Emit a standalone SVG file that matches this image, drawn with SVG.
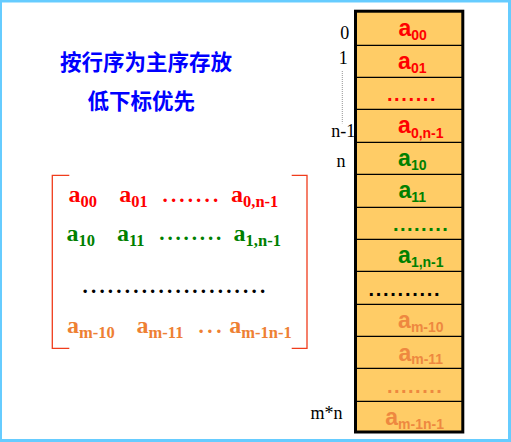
<svg xmlns="http://www.w3.org/2000/svg" width="511" height="442" viewBox="0 0 511 442">
<style>
.cell{fill:#FFCC66}
.div{stroke:#000;stroke-width:1.2}
.ca{font-family:"Liberation Sans",Arial,sans-serif;font-weight:bold;font-size:23px}
.cs{font-size:14px}
.cd{font-family:"Liberation Sans",Arial,sans-serif;font-weight:bold;font-size:20px}
.ma{font-family:"Liberation Serif","Times New Roman",serif;font-weight:bold;font-size:24px}
.ms{font-size:16.5px}
.md{font-family:"Liberation Serif","Times New Roman",serif;font-weight:bold;font-size:21px}
.lbl{font-family:"Liberation Serif","Times New Roman",serif;font-size:18px;fill:#000}
.title{font-family:"Noto Sans CJK SC","Noto Sans CJK JP",sans-serif;font-weight:bold;font-size:21.5px;fill:#0000FF}
.r{fill:#FF0000}
.g{fill:#008000}
.o{fill:#EE8033}
.oc{fill:#EE8840}
.k{fill:#000}
.br{fill:none;stroke:#F03C1C;stroke-width:1.3}
</style>
<rect x="0" y="0" width="511" height="442" fill="#66CCFF"/>
<rect x="2" y="2.5" width="506" height="436.5" fill="#FFFFFF"/>

<g id="title">
<text class="title" x="60" y="69.5">按行序为主序存放</text>
<text class="title" x="87.5" y="108.5">低下标优先</text>
</g>

<g id="matrix">
<path class="br" d="M69.3,175.3 H52.3 V348.3 H69.3"/>
<path class="br" d="M291.7,175.3 H307 V348.3 H291.7"/>
<text class="ma r" x="68.5" y="202">a<tspan class="ms" dy="5">00</tspan></text>
<text class="ma r" x="119.3" y="202">a<tspan class="ms" dy="5">01</tspan></text>
<text class="md r" x="162.5" y="202" style="letter-spacing:3.15px">.......</text>
<text class="ma r" x="231" y="202">a<tspan class="ms" dy="5">0,n-1</tspan></text>
<text class="ma g" x="66.6" y="240.5">a<tspan class="ms" dy="5">10</tspan></text>
<text class="ma g" x="117" y="240.5">a<tspan class="ms" dy="5">11</tspan></text>
<text class="md g" x="159.3" y="240" style="letter-spacing:2.85px">........</text>
<text class="ma g" x="233.6" y="240.5">a<tspan class="ms" dy="5">1,n-1</tspan></text>
<text class="md k" x="82.5" y="293" style="letter-spacing:3.2px">......................</text>
<text class="ma o" x="67" y="332.5">a<tspan class="ms" dy="5">m-10</tspan></text>
<text class="ma o" x="136.6" y="332.5">a<tspan class="ms" dy="5">m-11</tspan></text>
<text class="md o" x="198.5" y="333" style="letter-spacing:3.6px">...</text>
<text class="ma o" x="229.3" y="332.5">a<tspan class="ms" dy="5">m-1n-1</tspan></text>
</g>

<g id="memory">
<rect class="cell" x="355.5" y="11.2" width="107.3" height="420.8" stroke="#000" stroke-width="3"/>
<g id="dividers">
<line class="div" x1="355.5" y1="45.3" x2="462.8" y2="45.3"/>
<line class="div" x1="355.5" y1="77.3" x2="462.8" y2="77.3"/>
<line class="div" x1="355.5" y1="109.3" x2="462.8" y2="109.3"/>
<line class="div" x1="355.5" y1="142.3" x2="462.8" y2="142.3"/>
<line class="div" x1="355.5" y1="174.3" x2="462.8" y2="174.3"/>
<line class="div" x1="355.5" y1="207.3" x2="462.8" y2="207.3"/>
<line class="div" x1="355.5" y1="239.3" x2="462.8" y2="239.3"/>
<line class="div" x1="355.5" y1="271.3" x2="462.8" y2="271.3"/>
<line class="div" x1="355.5" y1="304.3" x2="462.8" y2="304.3"/>
<line class="div" x1="355.5" y1="336.3" x2="462.8" y2="336.3"/>
<line class="div" x1="355.5" y1="368.3" x2="462.8" y2="368.3"/>
<line class="div" x1="355.5" y1="401.3" x2="462.8" y2="401.3"/>
</g>
<g id="cell0"><text class="ca r" x="398.4" y="36">a<tspan class="cs" dy="4">00</tspan></text></g>
<g id="cell1"><text class="ca r" x="398.1" y="68.5">a<tspan class="cs" dy="4.2">01</tspan></text></g>
<g id="cell2"><text class="cd r" x="386.9" y="101" style="letter-spacing:1.64px">.......</text></g>
<g id="cell3"><text class="ca r" x="398.1" y="133.3">a<tspan class="cs" dy="4.4">0,n-1</tspan></text></g>
<g id="cell4"><text class="ca g" x="398.1" y="165.7">a<tspan class="cs" dy="4.3">10</tspan></text></g>
<g id="cell5"><text class="ca g" x="398.4" y="198.3">a<tspan class="cs" dy="4">11</tspan></text></g>
<g id="cell6"><text class="cd g" x="392.9" y="230.5" style="letter-spacing:1.5px">........</text></g>
<g id="cell7"><text class="ca g" x="398.1" y="263.3">a<tspan class="cs" dy="4">1,n-1</tspan></text></g>
<g id="cell8"><text class="cd k" x="368.6" y="296" style="letter-spacing:1.7px">..........</text></g>
<g id="cell9"><text class="ca oc" x="398.1" y="328.3">a<tspan class="cs" dy="4">m-10</tspan></text></g>
<g id="cell10"><text class="ca oc" x="398.4" y="360.7">a<tspan class="cs" dy="3.6">m-11</tspan></text></g>
<g id="cell11"><text class="cd oc" x="386.9" y="393" style="letter-spacing:1.5px">........</text></g>
<g id="cell12"><text class="ca oc" x="385.3" y="425">a<tspan class="cs" dy="4.3">m-1n-1</tspan></text></g>
</g>

<g id="index-labels">
<text class="lbl" x="340.2" y="39">0</text>
<text class="lbl" x="338.7" y="64">1</text>
<text class="lbl" x="331.3" y="137.3">n-1</text>
<text class="lbl" x="336.5" y="167.3">n</text>
<text class="lbl" x="310.5" y="419.3">m*n</text>
</g>

<g id="connectors">
<line x1="342.3" y1="71" x2="342.3" y2="123.3" stroke="#777" stroke-width="0.8" stroke-dasharray="1,1"/>
</g>
</svg>
